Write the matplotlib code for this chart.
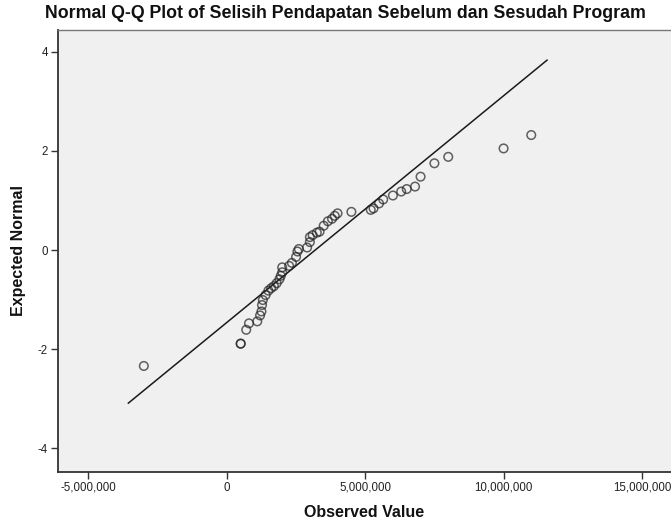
import matplotlib
matplotlib.use("Agg")
import matplotlib.pyplot as plt
from matplotlib.ticker import FuncFormatter

plt.rcParams['font.family'] = ['Liberation Sans', 'DejaVu Sans']

title = "Normal Q-Q Plot of Selisih Pendapatan Sebelum dan Sesudah Program"
x_label = "Observed Value"
y_label = "Expected Normal"

observed = [-3000000, 500000, 500000, 700000, 800000, 1100000, 1200000, 1250000,
            1270000, 1300000, 1400000, 1500000, 1600000, 1700000, 1800000, 1900000,
            1950000, 2000000, 2000000, 2250000, 2350000, 2500000, 2550000, 2600000,
            2900000, 3000000, 3000000, 3100000, 3250000, 3350000, 3500000, 3650000,
            3800000, 3900000, 4000000, 4500000, 5200000, 5300000, 5500000, 5650000,
            6000000, 6300000, 6500000, 6800000, 7000000, 7500000, 8000000, 10000000,
            11000000]
expected = [-2.34, -1.89, -1.89, -1.61, -1.48, -1.44, -1.32, -1.24,
            -1.11, -1.01, -0.91, -0.82, -0.77, -0.73, -0.67, -0.59,
            -0.52, -0.45, -0.35, -0.32, -0.26, -0.14, -0.03, 0.02,
            0.05, 0.16, 0.26, 0.30, 0.35, 0.37, 0.49, 0.58,
            0.63, 0.69, 0.74, 0.77, 0.81, 0.84, 0.94, 1.02,
            1.10, 1.18, 1.23, 1.28, 1.48, 1.75, 1.88, 2.05,
            2.32]

ref_mean = 3195000
ref_sd = 2186000
line_x = [-3560000, 11570000]
line_y = [(v - ref_mean) / ref_sd for v in line_x]

x_ticks = [-5000000, 0, 5000000, 10000000, 15000000]
y_ticks = [-4, -2, 0, 2, 4]

fig = plt.figure(figsize=(6.71, 5.21), dpi=100)
fig.patch.set_facecolor('white')
ax = fig.add_axes([57.5/671, 1 - 472/521, 1 - 57.5/671, (472 - 30)/521])
ax.set_facecolor('#F0F0F0')

ax.plot(line_x, line_y, color='#1a1a1a', lw=1.1, zorder=2)
ax.scatter(observed, expected, s=38, facecolors='none', edgecolors='#222222',
           linewidths=1.1, alpha=0.7, zorder=3)

ax.set_xlim(-6120000, 16050000)
ax.set_ylim(-4.48, 4.44)
ax.set_xticks(x_ticks)
ax.set_yticks(y_ticks)
ax.xaxis.set_major_formatter(FuncFormatter(lambda v, p: f"{int(round(v)):,}"))
ax.yaxis.set_major_formatter(FuncFormatter(lambda v, p: f"{int(round(v))}"))
ax.tick_params(axis='both', direction='out', length=5, width=1, color='#333333',
               labelsize=8.3, labelcolor='#222222', pad=2)

for s in ['left', 'bottom']:
    ax.spines[s].set_color('#333333')
    ax.spines[s].set_linewidth(1.3)
ax.spines['top'].set_color('#777777')
ax.spines['top'].set_linewidth(1.0)
ax.spines['right'].set_visible(False)

ax.set_xlabel(x_label, fontsize=11.5, fontweight='bold', labelpad=8, color='#111111')
ax.set_ylabel(y_label, fontsize=11.5, fontweight='bold', labelpad=8, color='#111111')

fig.text(345/671, 1 - 13/521, title, ha='center', va='center', fontsize=12.8,
         fontweight='bold', color='#111111')

fig.savefig('out.png', dpi=100, facecolor='white')
